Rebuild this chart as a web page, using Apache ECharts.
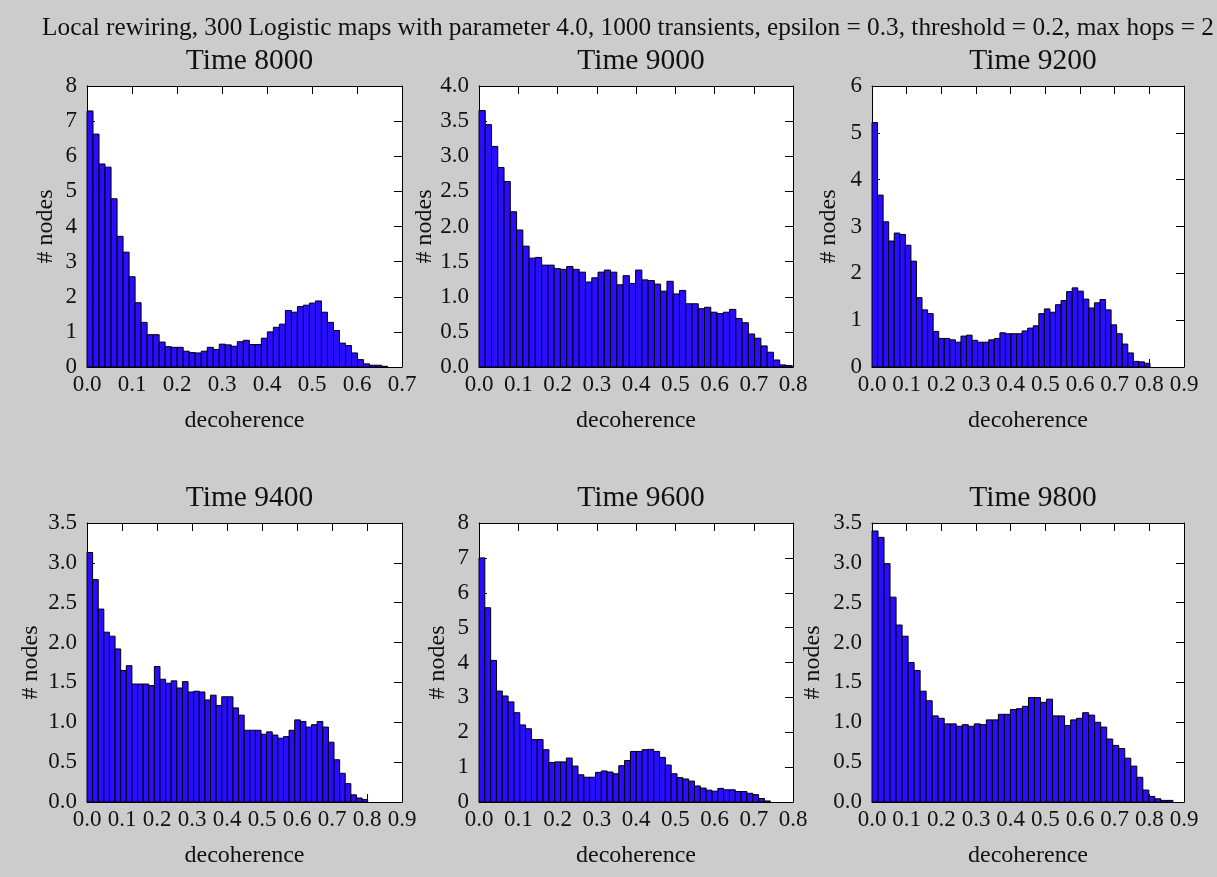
<!DOCTYPE html>
<html>
<head>
<meta charset="utf-8">
<script src="https://cdn.jsdelivr.net/npm/echarts@6/dist/echarts.min.js"></script>
<style>
  html, body { margin: 0; padding: 0; background: #cccccc; }
  #chart { width: 1217px; height: 877px; }
</style>
</head>
<body>
<div id="chart"></div>
<script>
// ---- Data (histogram densities, 50 bins each) ----
const suptitle = 'Local rewiring, 300 Logistic maps with parameter 4.0, 1000 transients, epsilon = 0.3, threshold = 0.2, max hops = 2';
const panelTitles = ['Time 8000', 'Time 9000', 'Time 9200', 'Time 9400', 'Time 9600', 'Time 9800'];

const t8000 = [7.29,6.63,5.78,5.69,4.79,3.72,3.27,2.57,1.83,1.27,0.92,0.92,0.71,0.58,0.56,0.56,0.45,0.41,0.40,0.45,0.56,0.50,0.65,0.63,0.59,0.72,0.76,0.64,0.64,0.82,1.00,1.13,1.22,1.61,1.56,1.72,1.76,1.82,1.88,1.56,1.27,1.04,0.68,0.61,0.40,0.21,0.09,0.05,0.05,0.02];
const t9000 = [3.65,3.45,3.14,2.84,2.64,2.21,1.95,1.72,1.55,1.56,1.45,1.45,1.40,1.39,1.43,1.39,1.35,1.21,1.27,1.35,1.38,1.35,1.17,1.30,1.19,1.38,1.24,1.23,1.18,1.08,1.22,1.04,1.09,0.90,0.90,0.83,0.85,0.78,0.76,0.78,0.82,0.69,0.63,0.47,0.41,0.30,0.21,0.10,0.03,0.02];
const t9200 = [5.22,3.67,3.10,2.69,2.86,2.83,2.60,2.26,1.48,1.22,1.14,0.76,0.61,0.61,0.58,0.53,0.66,0.68,0.57,0.53,0.53,0.58,0.61,0.73,0.71,0.71,0.71,0.77,0.83,0.88,1.14,1.24,1.17,1.33,1.42,1.61,1.69,1.62,1.45,1.26,1.37,1.44,1.22,0.90,0.71,0.49,0.30,0.12,0.11,0.08];
const t9400 = [3.13,2.79,2.42,2.13,2.08,1.92,1.65,1.71,1.48,1.48,1.48,1.46,1.70,1.54,1.49,1.52,1.43,1.51,1.38,1.39,1.38,1.28,1.34,1.21,1.32,1.32,1.18,1.09,0.90,0.90,0.90,0.85,0.88,0.84,0.80,0.82,0.90,1.03,1.01,0.94,0.97,1.01,0.94,0.75,0.53,0.36,0.23,0.09,0.05,0.03];
const t9600 = [7.00,5.57,4.06,3.18,3.04,2.87,2.56,2.21,2.10,1.79,1.79,1.50,1.13,1.15,1.15,1.26,1.03,0.78,0.71,0.71,0.85,0.89,0.86,0.81,1.04,1.19,1.45,1.45,1.50,1.51,1.45,1.28,1.06,0.81,0.70,0.66,0.60,0.46,0.40,0.34,0.31,0.39,0.35,0.35,0.30,0.30,0.25,0.21,0.10,0.03];
const t9800 = [3.40,3.32,2.99,2.57,2.22,2.08,1.75,1.65,1.39,1.27,1.08,1.05,0.98,0.98,0.95,0.97,0.95,0.98,0.97,1.03,1.03,1.10,1.10,1.16,1.17,1.20,1.31,1.31,1.25,1.29,1.08,1.08,0.96,1.03,1.05,1.12,1.09,1.00,0.94,0.79,0.71,0.67,0.55,0.45,0.31,0.15,0.07,0.04,0.02,0.02];

// bin range (data min, data max) for each panel
const binRanges = [[0, 0.668], [0, 0.798], [0, 0.802], [0, 0.802], [0, 0.742], [0, 0.868]];
// axis limits & tick intervals
const xMax = [0.7, 0.8, 0.9, 0.9, 0.8, 0.9];
const yMax = [8, 4.0, 6, 3.5, 8, 3.5];
const yInterval = [1, 0.5, 1, 0.5, 1, 0.5];
const yDecimals = [0, 1, 0, 1, 0, 1];

const series = [t8000, t9000, t9200, t9400, t9600, t9800];

// ---- Layout ----
const grids = [
  {left: 87, top: 86, width: 315, height: 281},
  {left: 479, top: 86, width: 314, height: 281},
  {left: 872, top: 86, width: 312, height: 281},
  {left: 87, top: 523, width: 315, height: 279},
  {left: 479, top: 523, width: 314, height: 279},
  {left: 872, top: 523, width: 312, height: 279}
];
const yNameGap = [29, 40, 31, 44, 29, 47];

const FONT = 'Liberation Serif';
const TXT = '#111';
const tickFont = 23;

const option = {
  backgroundColor: '#cccccc',
  animation: false,
  title: [],
  grid: [],
  xAxis: [],
  yAxis: [],
  series: []
};

option.title.push({
  text: suptitle,
  left: 623, top: 11, textAlign: 'center',
  textStyle: {fontFamily: FONT, fontSize: 25.3, fontWeight: 'normal', color: TXT}
});

grids.forEach((g, i) => {
  option.grid.push({
    left: g.left, top: g.top, width: g.width, height: g.height,
    show: true, backgroundColor: '#ffffff', borderWidth: 0, containLabel: false
  });
  option.title.push({
    text: panelTitles[i],
    left: g.left + g.width / 2, top: g.top - 45, textAlign: 'center',
    textStyle: {fontFamily: FONT, fontSize: 29.5, fontWeight: 'normal', color: TXT}
  });
  const axisLine = {show: true, onZero: false, lineStyle: {color: '#000', width: 1}};
  const axisTick = {show: true, inside: true, length: 8, lineStyle: {color: '#000', width: 1}};
  // bottom x
  option.xAxis.push({
    type: 'value', gridIndex: i, position: 'bottom', min: 0, max: xMax[i], interval: 0.1,
    axisLine, axisTick, splitLine: {show: false},
    axisLabel: {show: true, margin: 6, fontFamily: FONT, fontSize: tickFont, color: TXT,
      formatter: v => v.toFixed(1), hideOverlap: false, showMinLabel: true, showMaxLabel: true},
    name: 'decoherence', nameLocation: 'middle', nameGap: 42,
    nameTextStyle: {fontFamily: FONT, fontSize: 24, color: TXT}
  });
  // top x
  option.xAxis.push({
    type: 'value', gridIndex: i, position: 'top', min: 0, max: xMax[i], interval: 0.1,
    axisLine, axisTick, splitLine: {show: false}, axisLabel: {show: false}
  });
  // left y
  option.yAxis.push({
    type: 'value', gridIndex: i, position: 'left', min: 0, max: yMax[i], interval: yInterval[i],
    axisLine, axisTick, splitLine: {show: false},
    axisLabel: {show: true, margin: 10, fontFamily: FONT, fontSize: tickFont, color: TXT,
      formatter: v => v.toFixed(yDecimals[i]), showMinLabel: true, showMaxLabel: true},
    name: '# nodes', nameLocation: 'middle', nameGap: yNameGap[i], nameRotate: 90,
    nameTextStyle: {fontFamily: FONT, fontSize: 24, color: TXT}
  });
  // right y
  option.yAxis.push({
    type: 'value', gridIndex: i, position: 'right', min: 0, max: yMax[i], interval: yInterval[i],
    axisLine, axisTick, splitLine: {show: false}, axisLabel: {show: false}
  });

  const data = series[i];
  const lo = binRanges[i][0], hi = binRanges[i][1];
  const w = (hi - lo) / data.length;
  option.series.push({
    type: 'custom',
    xAxisIndex: 2 * i, yAxisIndex: 2 * i,
    data: data.map((h, k) => [k, h]),
    renderItem: function (params, api) {
      const k = api.value(0);
      const h = api.value(1);
      const x0 = lo + k * w, x1 = lo + (k + 1) * w;
      const p0 = api.coord([x0, h]);
      const p1 = api.coord([x1, 0]);
      return {
        type: 'rect',
        shape: {x: p0[0], y: p0[1], width: p1[0] - p0[0], height: p1[1] - p0[1]},
        style: {fill: '#2a0cff', stroke: '#000000', lineWidth: 1}
      };
    },
    z: 2
  });
});

const chart = echarts.init(document.getElementById('chart'), null, {renderer: 'canvas', width: 1217, height: 877});
chart.setOption(option);
</script>
</body>
</html>
